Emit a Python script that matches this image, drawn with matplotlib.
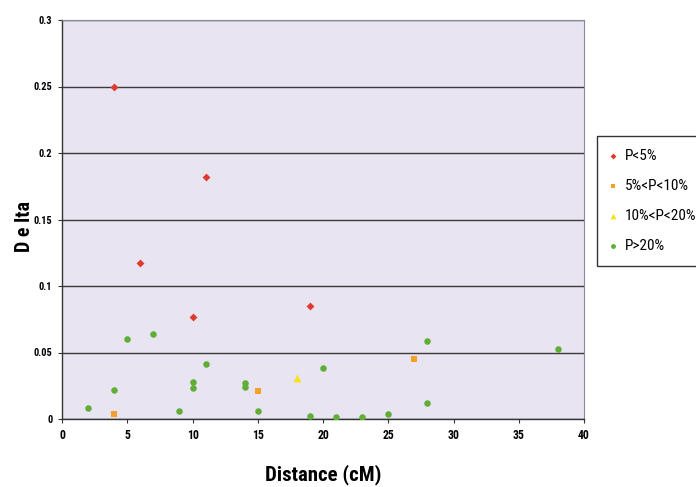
import matplotlib
matplotlib.use("Agg")
import matplotlib.pyplot as plt
from matplotlib import font_manager

# ---- data ----
red_x = [4, 11, 6, 10, 19]
red_y = [0.250, 0.182, 0.117, 0.077, 0.085]

orange_x = [4, 15, 27]
orange_y = [0.004, 0.021, 0.045]

yellow_x = [18]
yellow_y = [0.031]

green_x = [2, 4, 5, 7, 9, 10, 10, 11, 14, 14, 15, 19, 20, 21, 23, 25, 28, 28, 38]
green_y = [0.008, 0.022, 0.060, 0.064, 0.006, 0.028, 0.023, 0.041, 0.027, 0.024,
           0.006, 0.002, 0.038, 0.0015, 0.0015, 0.004, 0.012, 0.059, 0.053]

labels = ["P<5%", "5%<P<10%", "10%<P<20%", "P>20%"]
x_ticks = [0, 5, 10, 15, 20, 25, 30, 35, 40]
y_ticks = [0, 0.05, 0.1, 0.15, 0.2, 0.25, 0.3]
y_ticklabels = ["0", "0.05", "0.1", "0.15", "0.2", "0.25", "0.3"]

# pick a condensed font if one is installed
ttf = font_manager.fontManager.ttflist
fam, stretch = "Liberation Sans", "normal"
found = False
for pref in ["Liberation Sans Narrow", "Roboto Condensed", "Open Sans Condensed"]:
    if any(f.name == pref for f in ttf):
        fam, stretch, found = pref, "normal", True
        break
if not found:
    for f in ttf:
        if f.name == "DejaVu Sans" and str(f.stretch) in ("condensed", "semi-condensed", "75", "87.5"):
            fam, stretch, found = "DejaVu Sans", "condensed", True
            break
plt.rcParams['font.family'] = [fam, 'DejaVu Sans']
plt.rcParams['font.stretch'] = stretch

fig = plt.figure(figsize=(6.96, 4.87), dpi=100)
fig.patch.set_facecolor("white")
ax = fig.add_axes([62/696, 1-419/487, (584-62)/696, (419-20)/487])
ax.set_facecolor("#e9e4f1")

ax.scatter(red_x, red_y, marker="D", s=16, color="#e03a2e", label=labels[0], zorder=3, linewidths=0)
ax.scatter(orange_x, orange_y, marker="s", s=22, color="#f2a22a", label=labels[1], zorder=3, linewidths=0)
ax.scatter(yellow_x, yellow_y, marker="^", s=32, color="#f7e21e", label=labels[2], zorder=3, linewidths=0)
ax.scatter(green_x, green_y, marker="o", s=22, color="#5fae35", label=labels[3], zorder=3, linewidths=0)

ax.set_xlim(0, 40)
ax.set_ylim(0, 0.3)
ax.set_xticks(x_ticks)
ax.set_xticklabels([str(t) for t in x_ticks], fontsize=8.5, fontweight="bold")
ax.set_yticks(y_ticks)
ax.set_yticklabels(y_ticklabels, fontsize=7.5, fontweight="bold")
ax.yaxis.grid(True, color="#3a3a3a", linewidth=1.0)
ax.set_axisbelow(True)
ax.tick_params(axis="both", length=3, width=0.8, color="#333333", pad=4)

for side in ["left", "bottom"]:
    ax.spines[side].set_color("#333333")
    ax.spines[side].set_linewidth(1.0)
for side in ["top", "right"]:
    ax.spines[side].set_color("#8a8a96")
    ax.spines[side].set_linewidth(0.8)

ax.set_xlabel("Distance (cM)", fontsize=15, fontweight="bold")
ax.xaxis.set_label_coords(0.5, (419-475)/399)
ax.xaxis.label.set_va("center")
ax.set_ylabel("D e lta", fontsize=14.5, fontweight="bold")
ax.yaxis.set_label_coords((24-62)/522, (419-226)/399)
ax.yaxis.label.set_va("center")

leg = ax.legend(loc="upper left", bbox_to_anchor=(597/696, 1-136/487),
                bbox_transform=fig.transFigure, frameon=True, fancybox=False,
                fontsize=11, labelspacing=1.05, handlelength=0.4, handletextpad=0.55,
                borderpad=0.85, borderaxespad=0, markerscale=0.75)
leg.get_frame().set_edgecolor("black")
leg.get_frame().set_linewidth(1.0)

fig.savefig("out.png", dpi=100)
